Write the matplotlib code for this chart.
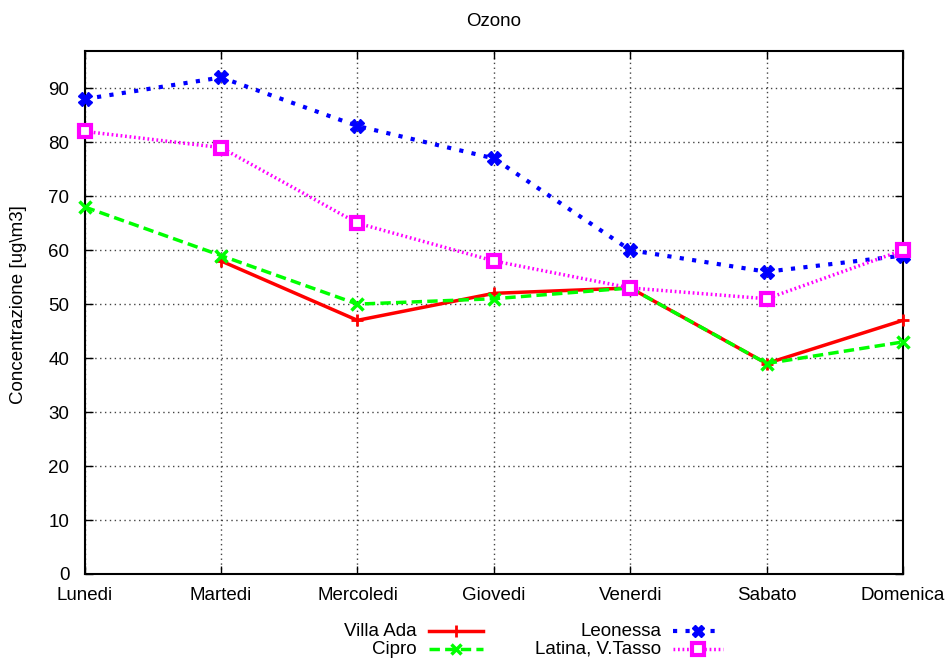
import numpy as np
import matplotlib
matplotlib.use("Agg")
import matplotlib.pyplot as plt
from matplotlib.lines import Line2D

plt.rcParams['font.family'] = ['Liberation Sans', 'DejaVu Sans']

days = ["Lunedi", "Martedi", "Mercoledi", "Giovedi", "Venerdi", "Sabato", "Domenica"]
villa_ada = [np.nan, 58, 47, 52, 53, 39, 47]
cipro = [68, 59, 50, 51, 53, 39, 43]
leonessa = [88, 92, 83, 77, 60, 56, 59]
latina = [82, 79, 65, 58, 53, 51, 60]
yticks = [0, 10, 20, 30, 40, 50, 60, 70, 80, 90]

FS = 13.5
W, H = 949, 662
fig = plt.figure(figsize=(W / 100, H / 100), dpi=100)
ax = fig.add_axes([84.7 / W, 1 - 574 / H, (903 - 84.7) / W, (574 - 51) / H])

x = np.arange(len(days))
styles = [
    dict(label="Villa Ada", data=villa_ada, color="#ff0000", ls="-", marker="+", lw=2.5, ms=9, mew=2),
    dict(label="Cipro", data=cipro, color="#00ff00", ls=(0, (3, 1.5)), marker="x", lw=2.5, ms=8, mew=2.5),
    dict(label="Leonessa", data=leonessa, color="#0000ff", ls=(0, (1, 2)), marker="X", lw=3, ms=10, mew=1),
    dict(label="Latina, V.Tasso", data=latina, color="#ff00ff", ls=(0, (0.5, 0.8)), marker="s", lw=2.5, ms=9, mew=3, mfc="white"),
]
for s in styles:
    ax.plot(x, s["data"], color=s["color"], ls=s["ls"], marker=s["marker"], lw=s["lw"],
            ms=s["ms"], mew=s["mew"], mfc=s.get("mfc", s["color"]), mec=s["color"], zorder=3, clip_on=False)

ax.set_xlim(0, len(days) - 1)
ax.set_ylim(0, 96.9)
ax.set_xticks(x)
ax.set_xticklabels(days, fontsize=FS)
ax.set_yticks(yticks)
ax.set_yticklabels([str(v) for v in yticks], fontsize=FS)
ax.tick_params(direction="in", length=6, width=1, top=True, right=True)
ax.tick_params(axis="x", pad=9)
ax.tick_params(axis="y", pad=11)
ax.grid(True, color="#444444", ls=(0, (1, 2.5)), lw=1)
for sp in ax.spines.values():
    sp.set_linewidth(1.5)

fig.text(494 / W, 1 - 21 / H, "Ozono", ha="center", va="center", fontsize=FS)
fig.text(19 / W, 1 - 305 / H, "Concentrazione [ug\\m3]", ha="center", va="center", rotation=90, fontsize=FS)

# legend
legend_pos = [(417, 631, 429, 483), (417, 649, 429, 483), (661, 631, 673, 723), (661, 649, 673, 723)]
for s, (tx, ty, l0, l1) in zip(styles, legend_pos):
    fig.text(tx / W, 1 - ty / H, s["label"], ha="right", va="center", fontsize=FS)
    fig.add_artist(Line2D([l0 / W, l1 / W], [1 - ty / H, 1 - ty / H], color=s["color"], ls=s["ls"], lw=s["lw"],
                          transform=fig.transFigure))
    fig.add_artist(Line2D([(l0 + l1) / 2 / W], [1 - ty / H], marker=s["marker"], ms=s["ms"] * 0.9, mew=s["mew"],
                          color=s["color"], mfc=s.get("mfc", s["color"]), transform=fig.transFigure))

fig.savefig("out.png", dpi=100)
